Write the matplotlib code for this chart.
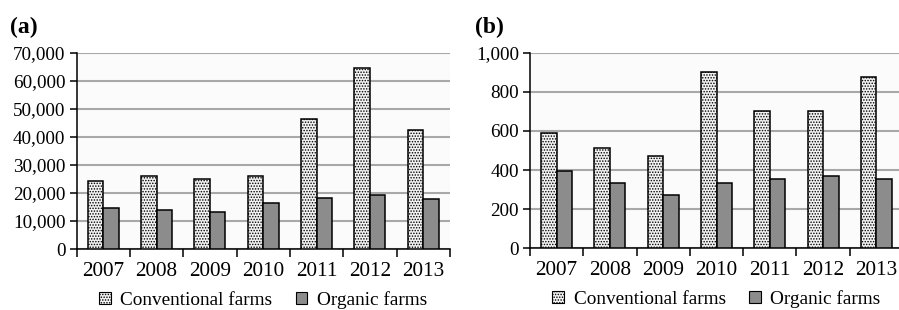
import matplotlib
matplotlib.use("Agg")
import matplotlib.pyplot as plt
import numpy as np
from matplotlib.ticker import FuncFormatter, FixedLocator

years = ["2007", "2008", "2009", "2010", "2011", "2012", "2013"]
conv_a = [24400, 26200, 25000, 26200, 46400, 64800, 42500]
org_a = [14500, 13800, 13300, 16300, 18200, 19200, 18000]
conv_b = [588, 513, 472, 903, 704, 704, 874]
org_b = [397, 332, 271, 335, 356, 368, 356]
series_names = ["Conventional farms", "Organic farms"]

plt.rcParams['font.family'] = ['Liberation Serif', 'DejaVu Serif']
plt.rcParams['hatch.color'] = '#b4b4b4'
plt.rcParams['hatch.linewidth'] = 0.7

fig = plt.figure(figsize=(8.99, 3.10), dpi=100)
W, H = 899, 310

def make_ax(left_px, right_px, top_px, bottom_px):
    return fig.add_axes([left_px / W, (H - bottom_px) / H,
                         (right_px - left_px) / W, (bottom_px - top_px) / H])

ax_a = make_ax(76.5, 450, 53, 249)
ax_b = make_ax(530, 903, 52.7, 248.3)

def draw(ax, conv, org, ymax, step, label, label_x_px, fmt):
    x = np.arange(len(years))
    w = 0.29
    ax.set_facecolor('#fbfbfb')
    b1 = ax.bar(x - w / 2, conv, w, color='#f2f2f2', edgecolor='black',
                linewidth=1.1, hatch='......', zorder=3, label=series_names[0])
    b2 = ax.bar(x + w / 2, org, w, color='#8c8c8c', edgecolor='black',
                linewidth=1.1, zorder=3, label=series_names[1])
    ax.set_xlim(-0.5, len(years) - 0.5)
    ax.set_ylim(0, ymax)
    ax.set_yticks(np.arange(0, ymax + 1, step))
    ax.yaxis.set_major_formatter(FuncFormatter(fmt))
    ax.grid(axis='y', color='#a8a8a8', linewidth=1.5, zorder=0)
    ax.set_axisbelow(True)
    ax.set_xticks(x)
    ax.set_xticklabels(years)
    ax.xaxis.set_minor_locator(FixedLocator(np.arange(-0.5, len(years), 1.0)))
    ax.tick_params(axis='x', which='major', length=0, labelsize=15.3, pad=9)
    ax.tick_params(axis='x', which='minor', length=6, width=1.1, direction='out')
    ax.tick_params(axis='y', length=5, width=1.1, direction='out', labelsize=13.8, pad=3)
    for s in ['top', 'right']:
        ax.spines[s].set_visible(False)
    ax.spines['left'].set_linewidth(1.1)
    ax.spines['bottom'].set_linewidth(1.1)
    fig.text(label_x_px / W, 1 - 27 / H, label, fontsize=17,
             fontweight='bold', ha='left', va='center')
    leg = ax.legend(handles=[b1, b2], loc='center', bbox_to_anchor=(0.5, (249 - 300) / 196),
                    ncol=2, frameon=False, fontsize=13.9, handlelength=0.6,
                    handleheight=0.6, handletextpad=0.5, columnspacing=1.2,
                    borderaxespad=0)
    for p in leg.get_patches():
        p.set_linewidth(0.8)

draw(ax_a, conv_a, org_a, 70000, 10000, '(a)', 10, lambda v, p: f"{int(v):,}")
draw(ax_b, conv_b, org_b, 1000, 200, '(b)', 475, lambda v, p: f"{int(v):,}")

fig.savefig("out.png", dpi=100)
